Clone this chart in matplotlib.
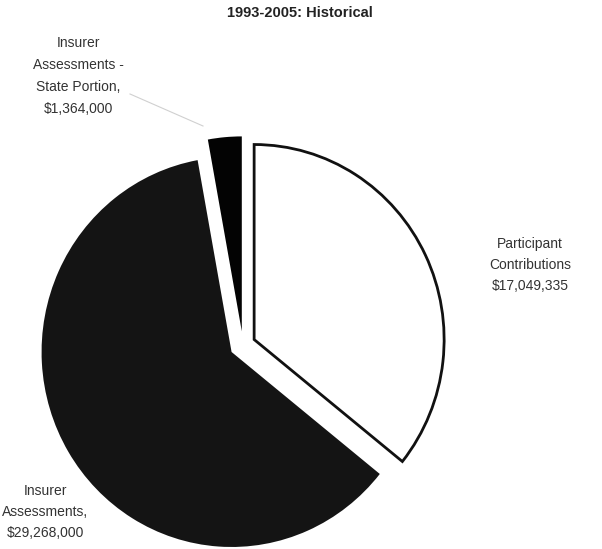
import matplotlib.pyplot as plt

plt.rcParams['font.family'] = ['Liberation Sans', 'DejaVu Sans']

labels = ['Participant\nContributions\n$17,049,335',
          'Insurer\nAssessments,\n$29,268,000',
          'Insurer\nAssessments -\nState Portion,\n$1,364,000']
values = [17049335, 29268000, 1364000]
colors = ['white', '#141414', '#030303']
explode = [0.065, 0.07, 0.07]

W, H = 602, 549
cx, cy = 243, 345     # pie centre in pixels
RX, RY = 190, 195     # the scan is slightly squeezed sideways

fig = plt.figure(figsize=(W / 100, H / 100), dpi=100)
ax = fig.add_axes([0, 0, 1, 1])

wedges, _ = ax.pie(values, colors=colors, explode=explode, startangle=90,
                   counterclock=False, radius=1.0,
                   wedgeprops=dict(linewidth=0))
wedges[0].set_edgecolor('#111111')
wedges[0].set_linewidth(2)

ax.set_aspect('auto')
ax.set_xlim(-cx / RX, (W - cx) / RX)
ax.set_ylim(-(H - cy) / RY, cy / RY)
ax.axis('off')


def px(x, y):
    return ((x - cx) / RX, (cy - y) / RY)


fs = 10
ax.text(*px(300, 13), '1993-2005: Historical', ha='center', va='center',
        fontsize=10.5, fontweight='bold', color='#222222')
ax.text(*px(530, 265), labels[0], ha='center', va='center', fontsize=fs,
        color='#333333', linespacing=1.65)
ax.text(*px(45, 512), labels[1], ha='center', va='center', fontsize=fs,
        color='#333333', linespacing=1.65)
ax.text(*px(78, 76), labels[2], ha='center', va='center', fontsize=fs,
        color='#333333', linespacing=1.7)
ax.plot(*zip(px(130, 94), px(203, 126)), color='#d0d0d0', lw=0.8)

fig.savefig('out.png', dpi=100)
